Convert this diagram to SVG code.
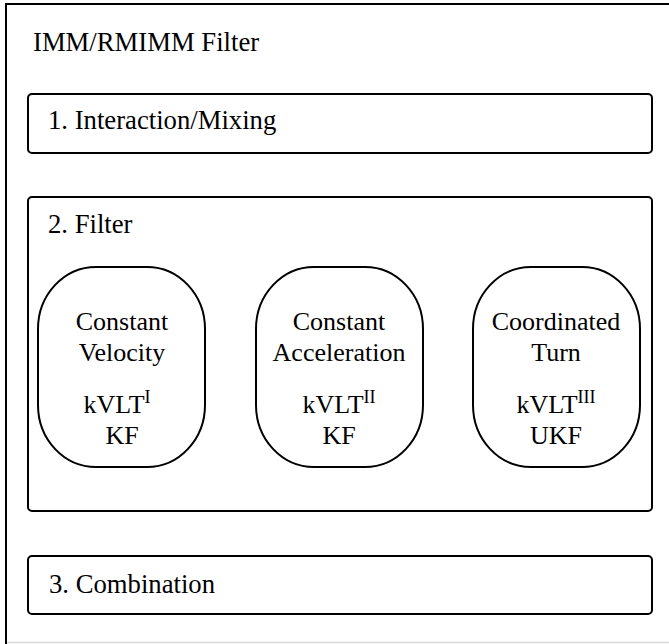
<svg xmlns="http://www.w3.org/2000/svg" width="669" height="644" viewBox="0 0 669 644">
<style>
text{font-family:'Liberation Serif','DejaVu Serif',serif;font-size:26.7px;fill:#000}
.box{fill:#fff;stroke:#000;stroke-width:2}
.cap{fill:#fff;stroke:#000;stroke-width:2}
.c{text-anchor:middle;font-size:26px}
.sup{font-size:18px}
</style>
<rect width="669" height="644" fill="#fff"/>
<g id="outer">
<rect x="6" y="4" width="680" height="660" fill="none" stroke="#000" stroke-width="2"/>
<line x1="7" y1="642.5" x2="669" y2="642.5" stroke="#d8d8d8" stroke-width="1.5"/>
<text x="33" y="51">IMM/RMIMM Filter</text>
</g>
<g id="interaction">
<rect class="box" x="28" y="94" width="624" height="59" rx="4"/>
<text x="48" y="129">1. Interaction/Mixing</text>
</g>
<g id="filter">
<rect class="box" x="28" y="197" width="624" height="314" rx="4"/>
<text x="48" y="233">2. Filter</text>
</g>
<g id="cv">
<rect class="cap" x="38" y="267" width="167" height="200" rx="58" ry="62"/>
<text class="c"><tspan x="122" y="330">Constant</tspan><tspan x="122" y="361">Velocity</tspan></text>
<text class="c"><tspan x="117" y="413">kVLT<tspan class="sup" dy="-10">I</tspan></tspan><tspan x="122" y="444">KF</tspan></text>
</g>
<g id="ca">
<rect class="cap" x="256" y="267" width="167" height="200" rx="58" ry="62"/>
<text class="c"><tspan x="339" y="330">Constant</tspan><tspan x="339" y="361">Acceleration</tspan></text>
<text class="c"><tspan x="339" y="413">kVLT<tspan class="sup" dy="-10">II</tspan></tspan><tspan x="339" y="444">KF</tspan></text>
</g>
<g id="ct">
<rect class="cap" x="473" y="267" width="167" height="200" rx="58" ry="62"/>
<text class="c"><tspan x="556" y="330">Coordinated</tspan><tspan x="556" y="361">Turn</tspan></text>
<text class="c"><tspan x="556" y="413">kVLT<tspan class="sup" dy="-10">III</tspan></tspan><tspan x="556" y="444">UKF</tspan></text>
</g>
<g id="combination">
<rect class="box" x="28" y="556" width="624" height="58" rx="4"/>
<text x="49" y="593">3. Combination</text>
</g>
<g id="connectors"></g>
</svg>
